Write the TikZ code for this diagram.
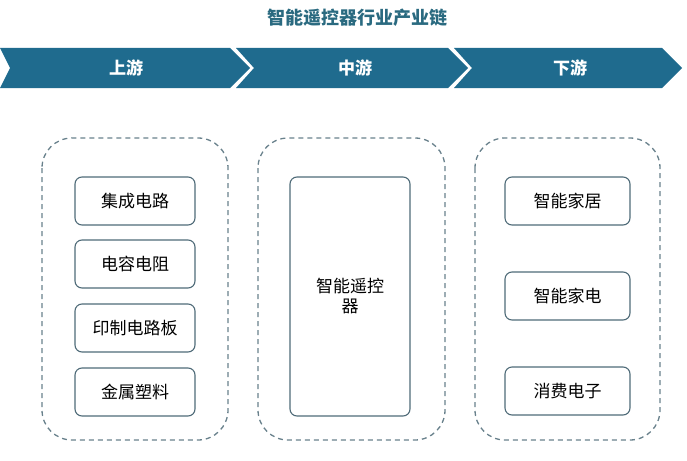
\documentclass[tikz,border=0pt]{standalone}
\usepackage{fontspec}
\newfontfamily\cjk{Noto Sans CJK SC}
\definecolor{chev}{HTML}{1F6B8E}
\definecolor{ttl}{HTML}{2A6A80}
\definecolor{bord}{HTML}{4F6B78}
\begin{document}
\begin{tikzpicture}[x=1pt,y=-1pt,
  chevron/.style={fill=chev,draw=none},
  container/.style={draw=bord!85,dash pattern=on 5pt off 4pt,line width=1.3pt,rounded corners=30pt},
  item/.style={draw=bord,line width=1.1pt,rounded corners=7pt,fill=white,font=\cjk\fontsize{17}{20}\selectfont},
  lab/.style={text=white,font=\cjk\bfseries\fontsize{17}{20}\selectfont}]
\useasboundingbox (0,0) rectangle (687,460);
\node[text=ttl,font=\cjk\bfseries\fontsize{18}{20}\selectfont] (title) at (357,18) {智能遥控器行业产业链};
\fill[chevron] (0,48) -- (230,48) -- (250,68) -- (230,88) -- (0,88) -- (10,68) -- cycle;
\fill[chevron] (236,48) -- (448,48) -- (468,68) -- (448,88) -- (236,88) -- (254,68) -- cycle;
\fill[chevron] (454,48) -- (662,48) -- (682,68) -- (662,88) -- (454,88) -- (472,68) -- cycle;
\node[lab] (a) at (126,68) {上游};
\node[lab] (b) at (355,68) {中游};
\node[lab] (c) at (570,68) {下游};
\draw[container] (42,138) rectangle (228,440);
\draw[container] (258,138) rectangle (445,440);
\draw[container] (475,138) rectangle (660,440);
\foreach \y/\t/\n in {201/集成电路/u1,264/电容电阻/u2,328/印制电路板/u3,392/金属塑料/u4}
  \node[item,minimum width=120pt,minimum height=48pt] (\n) at (135,\y) {\t};
\node[item,minimum width=120pt,minimum height=239pt,align=center,text width=90pt] (m) at (350,296.5) {智能遥控\\器};
\foreach \y/\t/\n in {201/智能家居/d1,296/智能家电/d2,391/消费电子/d3}
  \node[item,minimum width=125pt,minimum height=48pt] (\n) at (567.5,\y) {\t};
\end{tikzpicture}
\end{document}
